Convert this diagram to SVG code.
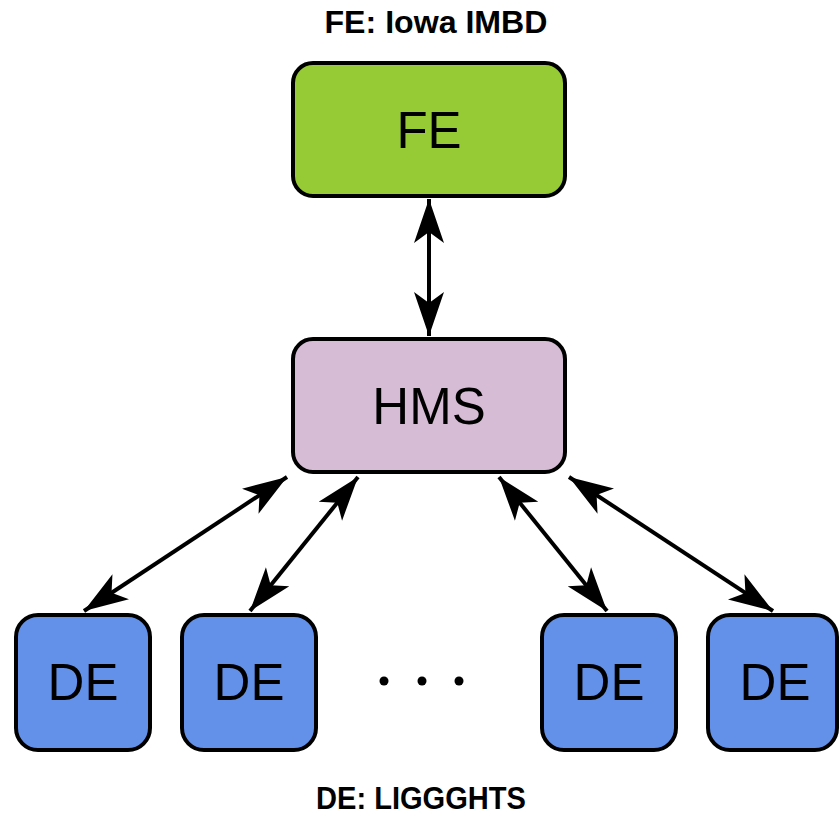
<svg xmlns="http://www.w3.org/2000/svg" width="839" height="816" viewBox="0 0 839 816">
  <style>
    .box { stroke: #000; stroke-width: 4; }
    .fe { fill: #97CB35; }
    .hms { fill: #D7BCD6; }
    .de { fill: #6391EA; }
    .label { font-family: "Liberation Sans", Arial, sans-serif; font-size: 51px; fill: #000; text-anchor: middle; }
    .title { font-family: "Liberation Sans", Arial, sans-serif; font-weight: bold; font-size: 31px; fill: #000; text-anchor: middle; }
    .link { stroke: #000; stroke-width: 4; fill: none; marker-start: url(#head); marker-end: url(#head); }
  </style>
  <defs>
    <!-- concave double-ended arrowhead, tip at the origin -->
    <marker id="head" markerUnits="userSpaceOnUse" viewBox="-46 -17 47 34" refX="0" refY="0" markerWidth="47" markerHeight="34" orient="auto-start-reverse">
      <path d="M0,0 L-44,-15 L-33,0 L-44,15 Z" fill="#000"/>
    </marker>
  </defs>

  <text class="title" x="436" y="33" textLength="223" lengthAdjust="spacingAndGlyphs">FE: Iowa IMBD</text>
  <text class="title" x="421" y="809" textLength="210" lengthAdjust="spacingAndGlyphs">DE: LIGGGHTS</text>

  <g id="connectors">
    <line class="link" x1="429" y1="199" x2="429" y2="336"/>
    <line class="link" x1="287" y1="477" x2="84" y2="611"/>
    <line class="link" x1="358" y1="477" x2="250" y2="611"/>
    <line class="link" x1="499" y1="477" x2="607" y2="611"/>
    <line class="link" x1="569" y1="477" x2="773" y2="611"/>
  </g>

  <g id="fe">
    <rect class="box fe" x="293" y="63" width="272" height="133" rx="20"/>
    <text class="label" x="429" y="148">FE</text>
  </g>
  <g id="hms">
    <rect class="box hms" x="293" y="339" width="272" height="133" rx="20"/>
    <text class="label" x="429" y="424">HMS</text>
  </g>
  <g id="de1">
    <rect class="box de" x="16" y="615" width="134" height="135" rx="22"/>
    <text class="label" x="83" y="700">DE</text>
  </g>
  <g id="de2">
    <rect class="box de" x="182" y="615" width="134" height="135" rx="22"/>
    <text class="label" x="249" y="700">DE</text>
  </g>
  <g id="de3">
    <rect class="box de" x="542" y="615" width="134" height="135" rx="22"/>
    <text class="label" x="609" y="700">DE</text>
  </g>
  <g id="de4">
    <rect class="box de" x="708" y="615" width="129" height="135" rx="22"/>
    <text class="label" x="775" y="700">DE</text>
  </g>
  <g id="ellipsis">
    <circle cx="384" cy="681" r="4.5" fill="#000"/>
    <circle cx="422" cy="681" r="4.5" fill="#000"/>
    <circle cx="459" cy="681" r="4.5" fill="#000"/>
  </g>
</svg>
